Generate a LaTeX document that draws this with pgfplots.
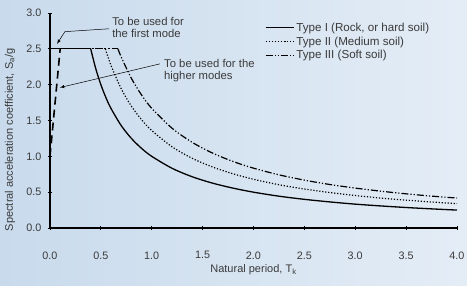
\documentclass[border=0pt]{standalone}
\usepackage{fontspec}
\setmainfont{Liberation Sans}
\usepackage{pgfplots}
\pgfplotsset{compat=1.18}
\definecolor{txt}{HTML}{3A3A3A}
\definecolor{bgl}{RGB}{200,218,236}
\definecolor{bgr}{RGB}{228,237,246}
\begin{document}
\begin{tikzpicture}[x=1pt,y=1pt]
\path[use as bounding box, left color=bgl, right color=bgr] (-50,-57) rectangle (417,228);
\begin{axis}[
  at={(0,0)}, anchor=south west,
  scale only axis, width=407pt, height=215pt,
  xmin=0, xmax=4, ymin=0, ymax=3,
  axis lines=left,
  axis line style={line width=1.6pt, -},
  xtick={0,0.5,...,4}, ytick={0,0.5,...,3},
  /pgf/number format/fixed, /pgf/number format/fixed zerofill,
  /pgf/number format/precision=1, /pgf/number format/assume math mode=true,
  tick label style={font=\fontsize{10.8}{12}\selectfont, text=txt},
  xticklabel style={yshift=-18pt},
  yticklabel style={xshift=-3pt},
  major tick length=4pt, tick align=center,
  tick style={line width=0.9pt, black},
  xlabel={Natural period, T\textsubscript{k}},
  ylabel={Spectral acceleration coefficient, S\textsubscript{a}/g},
  label style={font=\fontsize{11}{12.5}\selectfont, text=txt},
  x label style={at={(axis description cs:0.5,-0.195)}, anchor=center},
  y label style={at={(axis description cs:-0.0983,0.41)}, anchor=center},
  clip=false,
  legend style={draw=none, fill=none, at={(axis description cs:0.528,0.965)}, anchor=north west,
    font=\fontsize{11.6}{13}\selectfont, text=txt, row sep=0pt, inner sep=0pt},
  legend cell align=left,
  legend image code/.code={\draw[#1] plot coordinates {(0pt,0pt) (28pt,0pt)};},
]
% flat portions (no legend)
\addplot[black, line width=1.2pt, dash pattern=on 1.2pt off 1.8pt, forget plot] coordinates {(0,2.5) (0.544,2.5)};
\addplot[black, line width=1.2pt, dash pattern=on 7pt off 2pt on 1.2pt off 2pt on 1.2pt off 2pt, forget plot] coordinates {(0,2.5) (0.668,2.5)};
\addplot[black, line width=1.3pt, forget plot] coordinates {(0,2.5) (0.4,2.5)};
% higher modes dashed
\addplot[black, line width=1.6pt, dash pattern=on 8pt off 5pt, forget plot] coordinates {(0,1.0) (0.1,2.5)};
% Type I
\addplot[black, line width=1.3pt, smooth] coordinates {
(0.4,2.5) (0.45,2.222) (0.5,2.0) (0.55,1.818) (0.6,1.667) (0.7,1.429) (0.8,1.25) (0.9,1.111)
(1.0,1.0) (1.2,0.833) (1.4,0.714) (1.6,0.625) (1.8,0.556) (2.0,0.5) (2.25,0.444) (2.5,0.4)
(2.75,0.364) (3.0,0.333) (3.25,0.308) (3.5,0.286) (3.75,0.267) (4.0,0.25)};
\addlegendentry{Type I (Rock, or hard soil)}
% Type II
\addplot[black, line width=1.2pt, dash pattern=on 1.2pt off 1.8pt, smooth] coordinates {
(0.544,2.5) (0.6,2.267) (0.7,1.943) (0.8,1.7) (0.9,1.511) (1.0,1.36) (1.2,1.133) (1.4,0.971)
(1.6,0.85) (1.8,0.756) (2.0,0.68) (2.25,0.604) (2.5,0.544) (2.75,0.495) (3.0,0.453)
(3.25,0.418) (3.5,0.389) (3.75,0.363) (4.0,0.34)};
\addlegendentry{Type II (Medium soil)}
% Type III
\addplot[black, line width=1.2pt, dash pattern=on 7pt off 2pt on 1.2pt off 2pt on 1.2pt off 2pt, smooth] coordinates {
(0.668,2.5) (0.7,2.386) (0.8,2.088) (0.9,1.856) (1.0,1.67) (1.2,1.392) (1.4,1.193) (1.6,1.044)
(1.8,0.928) (2.0,0.835) (2.25,0.742) (2.5,0.668) (2.75,0.607) (3.0,0.557) (3.25,0.514)
(3.5,0.477) (3.75,0.445) (4.0,0.418)};
\addlegendentry{Type III (Soft soil)}
% annotations
\draw[-latex, line width=0.5pt, black] (axis cs:0.58,2.78) -- (axis cs:0.147,2.74) -- (axis cs:0.069,2.57);
\node[anchor=west, align=left, font=\fontsize{11.3}{12.5}\selectfont, text=txt, inner sep=0pt] at (axis cs:0.61,2.80) {To be used for\\the first mode};
\draw[-latex, line width=0.5pt, black] (axis cs:1.08,2.29) -- (axis cs:0.098,1.96);
\node[anchor=west, align=left, font=\fontsize{11.3}{12.5}\selectfont, text=txt, inner sep=0pt] at (axis cs:1.12,2.20) {To be used for the\\higher modes};
\end{axis}
\end{tikzpicture}
\end{document}
